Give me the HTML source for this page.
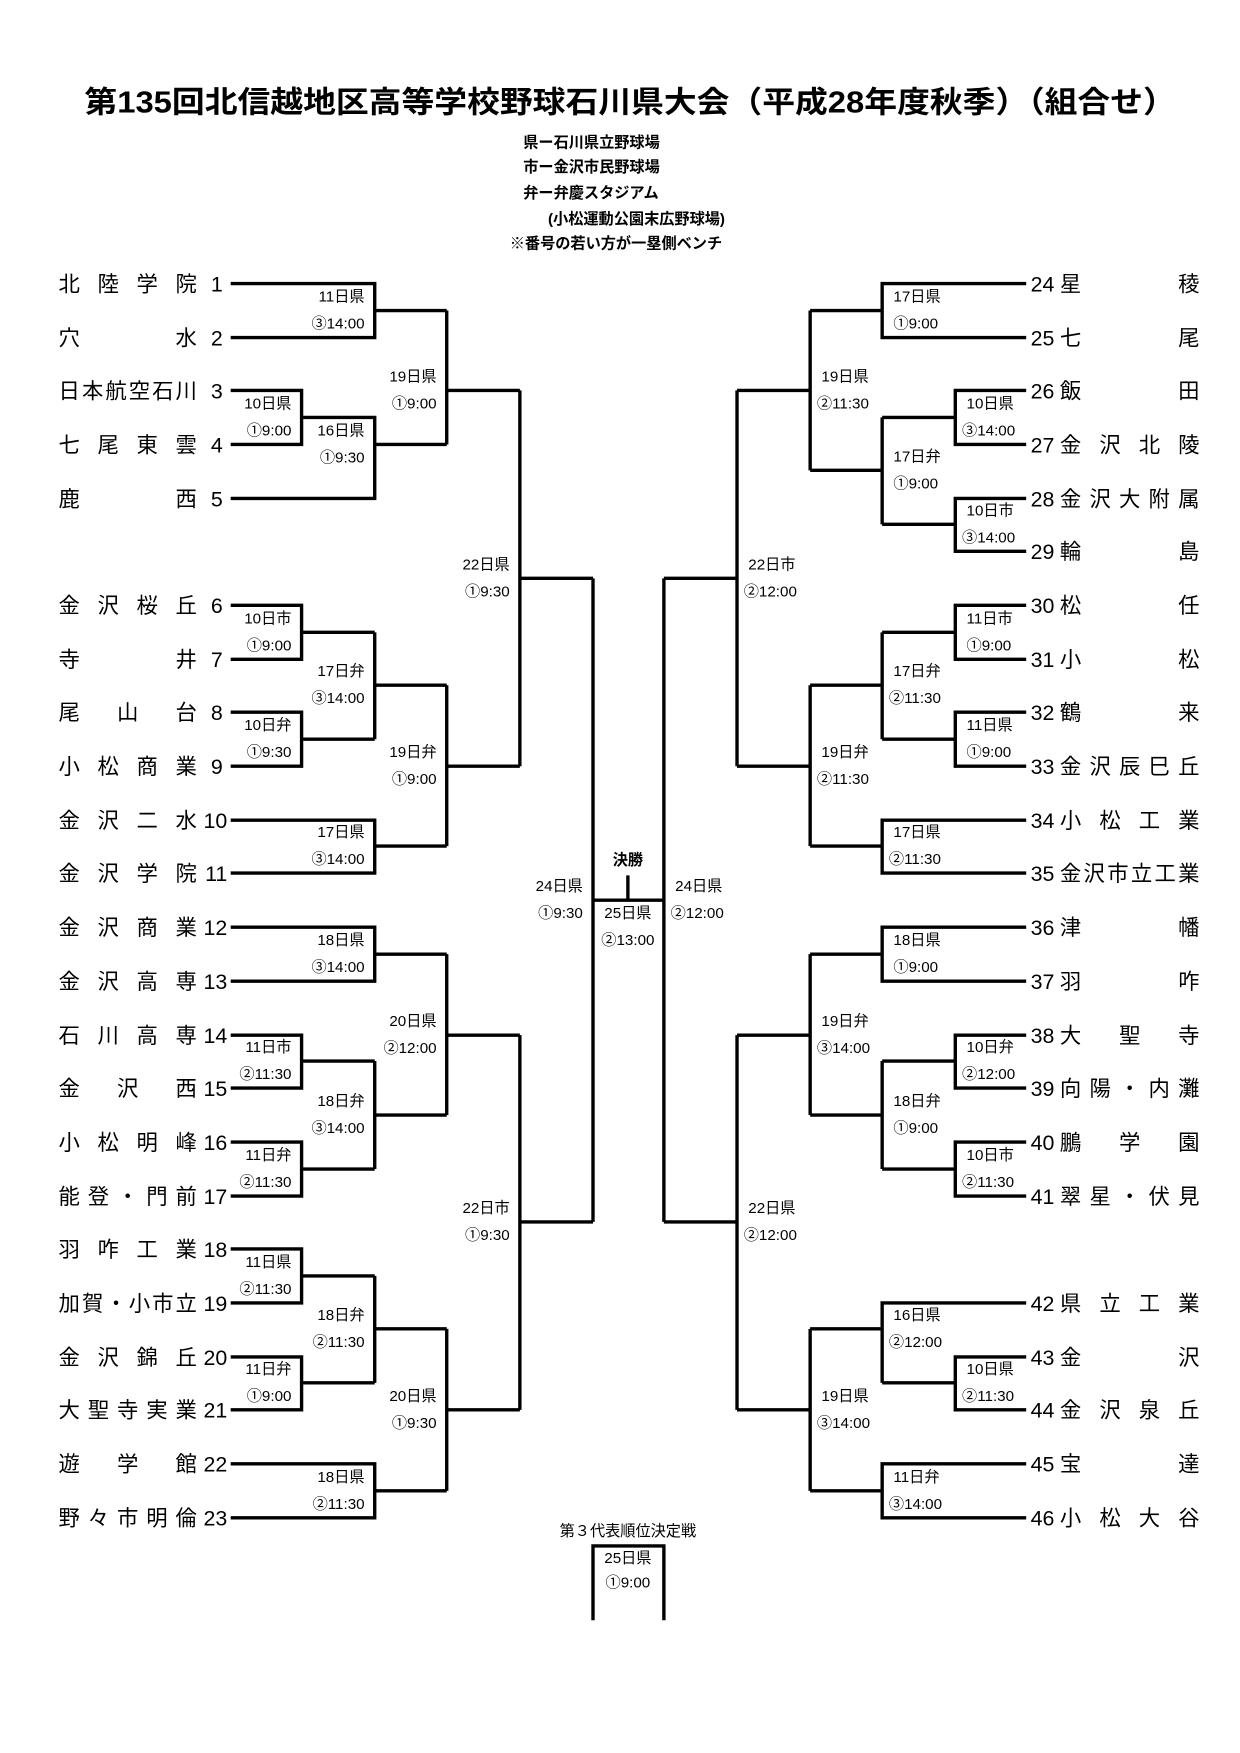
<!DOCTYPE html>
<html><head><meta charset="utf-8"><style>
html,body{margin:0;padding:0;background:#fff;}
svg{display:block;}
text{font-family:"Liberation Sans","Noto Sans CJK JP",sans-serif;fill:#000;}
.t{font-size:19px;}
.l{font-size:13.5px;dominant-baseline:central;}
.h{font-size:13.5px;font-weight:bold;}
</style></head><body>
<svg width="1240" height="1753" viewBox="0 0 1102 1558" xmlns="http://www.w3.org/2000/svg">
<text x="75" y="100" textLength="970" lengthAdjust="spacingAndGlyphs" style="font-size:27px;font-weight:bold">第135回北信越地区高等学校野球石川県大会（平成28年度秋季）（組合せ）</text>
<text class="h" x="465" y="131">県ー石川県立野球場</text>
<text class="h" x="465" y="153">市ー金沢市民野球場</text>
<text class="h" x="465" y="176">弁ー弁慶スタジアム</text>
<text class="h" x="487" y="199">(小松運動公園末広野球場)</text>
<text class="h" x="453" y="221">※番号の若い方が一塁側ベンチ</text>

<g fill="none" stroke="#000" stroke-width="3">
<path d="M205 252H333V300H205M333 276H397"/>
<path d="M205 347H268V395H205M268 371H333V443H205M333 395H397"/>
<path d="M397 276V395M397 347H462"/>
<path d="M205 538H268V586H205M268 562H333"/>
<path d="M205 633H268V681H205M268 657H333"/>
<path d="M333 562V657M333 609H397"/>
<path d="M205 729H333V776H205M333 752H397"/>
<path d="M397 609V752M397 681H462"/>
<path d="M462 347V681M462 514H527"/>
<path d="M205 824H333V872H205M333 848H397"/>
<path d="M205 920H268V967H205M268 943H333"/>
<path d="M205 1015H268V1063H205M268 1039H333"/>
<path d="M333 943V1039M333 991H397"/>
<path d="M397 848V991M397 920H462"/>
<path d="M205 1110H268V1158H205M268 1134H333"/>
<path d="M205 1206H268V1253H205M268 1229H333"/>
<path d="M333 1134V1229M333 1181H397"/>
<path d="M205 1301H333V1349H205M333 1325H397"/>
<path d="M397 1181V1325M397 1253H462"/>
<path d="M462 920V1253M462 1086H527"/>
<path d="M527 514V1086M527 800H590"/>
<path d="M912 252H784V300H912M784 276H720"/>
<path d="M912 347H849V395H912M849 371H784"/>
<path d="M912 443H849V490H912M849 466H784"/>
<path d="M784 371V466M784 418H720"/>
<path d="M720 276V418M720 347H655"/>
<path d="M912 538H849V586H912M849 562H784"/>
<path d="M912 633H849V681H912M849 657H784"/>
<path d="M784 562V657M784 609H720"/>
<path d="M912 729H784V776H912M784 752H720"/>
<path d="M720 609V752M720 681H655"/>
<path d="M655 347V681M655 514H590"/>
<path d="M912 824H784V872H912M784 848H720"/>
<path d="M912 920H849V967H912M849 943H784"/>
<path d="M912 1015H849V1063H912M849 1039H784"/>
<path d="M784 943V1039M784 991H720"/>
<path d="M720 848V991M720 920H655"/>
<path d="M912 1158H784V1229"/>
<path d="M912 1206H849V1253H912M849 1229H784M784 1181H720"/>
<path d="M912 1301H784V1349H912M784 1325H720"/>
<path d="M720 1181V1325M720 1253H655"/>
<path d="M655 920V1253M655 1086H590"/>
<path d="M590 514V1086"/>
<path d="M558 778V800"/>
<path d="M527 1440V1374H590V1440"/>
</g>

<g class="l" text-anchor="end">
<text x="324" y="264">11日県</text><text x="324" y="288">③14:00</text>
<text x="259" y="359">10日県</text><text x="259" y="383">①9:00</text>
<text x="324" y="383">16日県</text><text x="324" y="407">①9:30</text>
<text x="388" y="335">19日県</text><text x="388" y="359">①9:00</text>
<text x="453" y="502">22日県</text><text x="453" y="526">①9:30</text>
<text x="259" y="550">10日市</text><text x="259" y="574">①9:00</text>
<text x="259" y="645">10日弁</text><text x="259" y="669">①9:30</text>
<text x="324" y="597">17日弁</text><text x="324" y="621">③14:00</text>
<text x="324" y="740">17日県</text><text x="324" y="764">③14:00</text>
<text x="388" y="669">19日弁</text><text x="388" y="693">①9:00</text>
<text x="324" y="836">18日県</text><text x="324" y="860">③14:00</text>
<text x="259" y="931">11日市</text><text x="259" y="955">②11:30</text>
<text x="259" y="1027">11日弁</text><text x="259" y="1051">②11:30</text>
<text x="324" y="979">18日弁</text><text x="324" y="1003">③14:00</text>
<text x="388" y="908">20日県</text><text x="388" y="932">②12:00</text>
<text x="259" y="1122">11日県</text><text x="259" y="1146">②11:30</text>
<text x="259" y="1217">11日弁</text><text x="259" y="1241">①9:00</text>
<text x="324" y="1169">18日弁</text><text x="324" y="1193">②11:30</text>
<text x="324" y="1313">18日県</text><text x="324" y="1337">②11:30</text>
<text x="388" y="1241">20日県</text><text x="388" y="1265">①9:30</text>
<text x="453" y="1074">22日市</text><text x="453" y="1098">①9:30</text>
<text x="518" y="788">24日県</text><text x="518" y="812">①9:30</text>
</g>
<g class="l">
<text x="794" y="264">17日県</text><text x="794" y="288">①9:00</text>
<text x="859" y="359">10日県</text><text x="855" y="383">③14:00</text>
<text x="859" y="454">10日市</text><text x="855" y="478">③14:00</text>
<text x="794" y="406">17日弁</text><text x="794" y="430">①9:00</text>
<text x="730" y="335">19日県</text><text x="726" y="359">②11:30</text>
<text x="859" y="550">11日市</text><text x="859" y="574">①9:00</text>
<text x="859" y="645">11日県</text><text x="859" y="669">①9:00</text>
<text x="794" y="597">17日弁</text><text x="790" y="621">②11:30</text>
<text x="794" y="740">17日県</text><text x="790" y="764">②11:30</text>
<text x="730" y="669">19日弁</text><text x="726" y="693">②11:30</text>
<text x="665" y="502">22日市</text><text x="661" y="526">②12:00</text>
<text x="794" y="836">18日県</text><text x="794" y="860">①9:00</text>
<text x="859" y="931">10日弁</text><text x="855" y="955">②12:00</text>
<text x="859" y="1027">10日市</text><text x="855" y="1051">②11:30</text>
<text x="794" y="979">18日弁</text><text x="794" y="1003">①9:00</text>
<text x="730" y="908">19日弁</text><text x="726" y="932">③14:00</text>
<text x="794" y="1169">16日県</text><text x="790" y="1193">②12:00</text>
<text x="859" y="1217">10日県</text><text x="855" y="1241">②11:30</text>
<text x="794" y="1313">11日弁</text><text x="790" y="1337">③14:00</text>
<text x="730" y="1241">19日県</text><text x="726" y="1265">③14:00</text>
<text x="665" y="1074">22日県</text><text x="661" y="1098">②12:00</text>
<text x="600" y="788">24日県</text><text x="596" y="812">②12:00</text>
</g>
<g class="l" text-anchor="middle">
<text x="558" y="765" style="font-weight:bold">決勝</text>
<text x="558" y="812">25日県</text><text x="558" y="836">②13:00</text>
<text x="558" y="1361">第３代表順位決定戦</text>
<text x="558" y="1385">25日県</text><text x="558" y="1407">①9:00</text>
</g>

<g class="t">
<text x="52" y="259" textLength="123" lengthAdjust="spacing">北陸学院</text>
<text x="52" y="307" textLength="123" lengthAdjust="spacing">穴水</text>
<text x="52" y="354" textLength="123" lengthAdjust="spacing">日本航空石川</text>
<text x="52" y="402" textLength="123" lengthAdjust="spacing">七尾東雲</text>
<text x="52" y="450" textLength="123" lengthAdjust="spacing">鹿西</text>
<text x="52" y="545" textLength="123" lengthAdjust="spacing">金沢桜丘</text>
<text x="52" y="593" textLength="123" lengthAdjust="spacing">寺井</text>
<text x="52" y="640" textLength="123" lengthAdjust="spacing">尾山台</text>
<text x="52" y="688" textLength="123" lengthAdjust="spacing">小松商業</text>
<text x="52" y="736" textLength="123" lengthAdjust="spacing">金沢二水</text>
<text x="52" y="783" textLength="123" lengthAdjust="spacing">金沢学院</text>
<text x="52" y="831" textLength="123" lengthAdjust="spacing">金沢商業</text>
<text x="52" y="879" textLength="123" lengthAdjust="spacing">金沢高専</text>
<text x="52" y="927" textLength="123" lengthAdjust="spacing">石川高専</text>
<text x="52" y="974" textLength="123" lengthAdjust="spacing">金沢西</text>
<text x="52" y="1022" textLength="123" lengthAdjust="spacing">小松明峰</text>
<text x="52" y="1070" textLength="123" lengthAdjust="spacing">能登・門前</text>
<text x="52" y="1117" textLength="123" lengthAdjust="spacing">羽咋工業</text>
<text x="52" y="1165" textLength="123" lengthAdjust="spacing">加賀・小市立</text>
<text x="52" y="1213" textLength="123" lengthAdjust="spacing">金沢錦丘</text>
<text x="52" y="1260" textLength="123" lengthAdjust="spacing">大聖寺実業</text>
<text x="52" y="1308" textLength="123" lengthAdjust="spacing">遊学館</text>
<text x="52" y="1356" textLength="123" lengthAdjust="spacing">野々市明倫</text>
</g>
<g class="t" text-anchor="end">
<text x="198" y="259">1</text><text x="198" y="307">2</text><text x="198" y="354">3</text><text x="198" y="402">4</text><text x="198" y="450">5</text>
<text x="198" y="545">6</text><text x="198" y="593">7</text><text x="198" y="640">8</text><text x="198" y="688">9</text><text x="202" y="736">10</text><text x="202" y="783">11</text>
<text x="202" y="831">12</text><text x="202" y="879">13</text><text x="202" y="927">14</text><text x="202" y="974">15</text><text x="202" y="1022">16</text><text x="202" y="1070">17</text>
<text x="202" y="1117">18</text><text x="202" y="1165">19</text><text x="202" y="1213">20</text><text x="202" y="1260">21</text><text x="202" y="1308">22</text><text x="202" y="1356">23</text>
</g>
<g class="t">
<text x="916" y="259">24</text><text x="916" y="307">25</text><text x="916" y="354">26</text><text x="916" y="402">27</text><text x="916" y="450">28</text><text x="916" y="497">29</text>
<text x="916" y="545">30</text><text x="916" y="593">31</text><text x="916" y="640">32</text><text x="916" y="688">33</text><text x="916" y="736">34</text><text x="916" y="783">35</text>
<text x="916" y="831">36</text><text x="916" y="879">37</text><text x="916" y="927">38</text><text x="916" y="974">39</text><text x="916" y="1022">40</text><text x="916" y="1070">41</text>
<text x="916" y="1165">42</text><text x="916" y="1213">43</text><text x="916" y="1260">44</text><text x="916" y="1308">45</text><text x="916" y="1356">46</text>
<text x="942" y="259" textLength="124" lengthAdjust="spacing">星稜</text>
<text x="942" y="307" textLength="124" lengthAdjust="spacing">七尾</text>
<text x="942" y="354" textLength="124" lengthAdjust="spacing">飯田</text>
<text x="942" y="402" textLength="124" lengthAdjust="spacing">金沢北陵</text>
<text x="942" y="450" textLength="124" lengthAdjust="spacing">金沢大附属</text>
<text x="942" y="497" textLength="124" lengthAdjust="spacing">輪島</text>
<text x="942" y="545" textLength="124" lengthAdjust="spacing">松任</text>
<text x="942" y="593" textLength="124" lengthAdjust="spacing">小松</text>
<text x="942" y="640" textLength="124" lengthAdjust="spacing">鶴来</text>
<text x="942" y="688" textLength="124" lengthAdjust="spacing">金沢辰巳丘</text>
<text x="942" y="736" textLength="124" lengthAdjust="spacing">小松工業</text>
<text x="942" y="783" textLength="124" lengthAdjust="spacing">金沢市立工業</text>
<text x="942" y="831" textLength="124" lengthAdjust="spacing">津幡</text>
<text x="942" y="879" textLength="124" lengthAdjust="spacing">羽咋</text>
<text x="942" y="927" textLength="124" lengthAdjust="spacing">大聖寺</text>
<text x="942" y="974" textLength="124" lengthAdjust="spacing">向陽・内灘</text>
<text x="942" y="1022" textLength="124" lengthAdjust="spacing">鵬学園</text>
<text x="942" y="1070" textLength="124" lengthAdjust="spacing">翠星・伏見</text>
<text x="942" y="1165" textLength="124" lengthAdjust="spacing">県立工業</text>
<text x="942" y="1213" textLength="124" lengthAdjust="spacing">金沢</text>
<text x="942" y="1260" textLength="124" lengthAdjust="spacing">金沢泉丘</text>
<text x="942" y="1308" textLength="124" lengthAdjust="spacing">宝達</text>
<text x="942" y="1356" textLength="124" lengthAdjust="spacing">小松大谷</text>
</g>
</svg>
</body></html>
